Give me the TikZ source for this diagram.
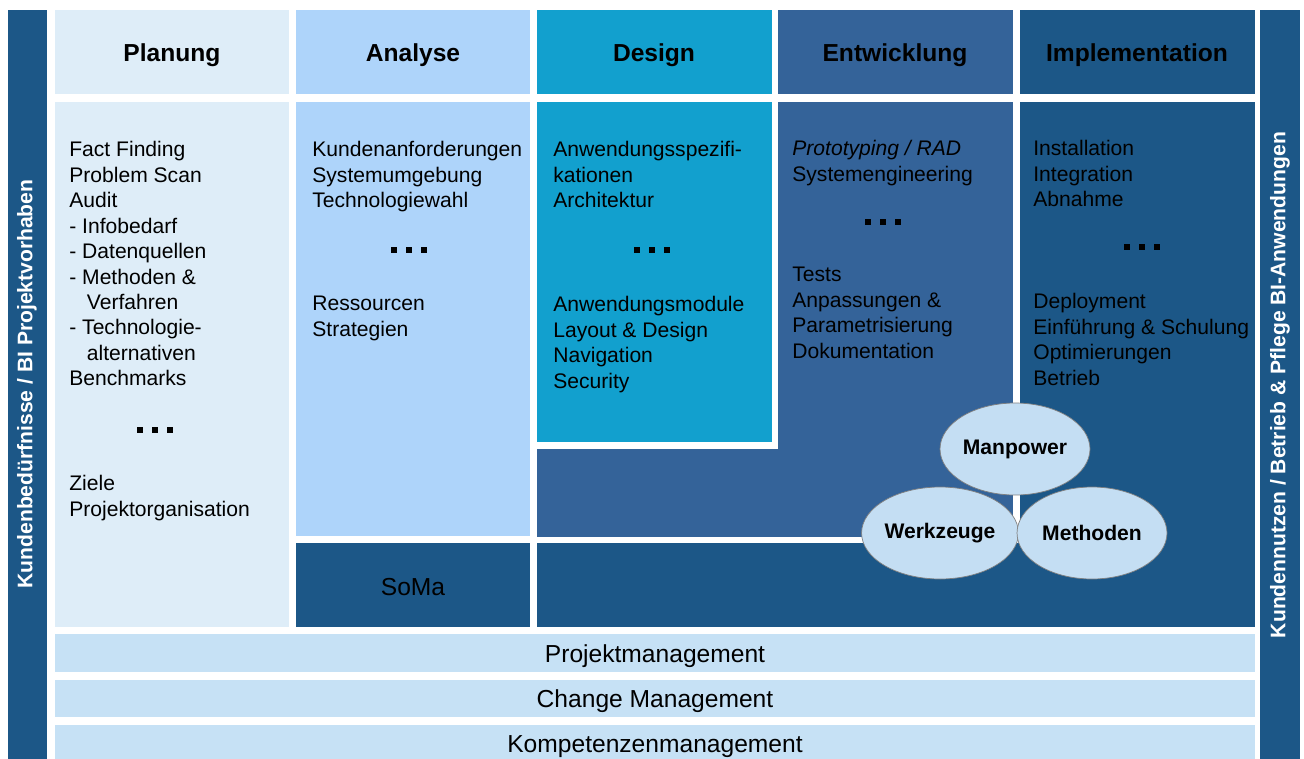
\documentclass[tikz,border=0pt]{standalone}
\usepackage{fontspec}
\setmainfont{Liberation Sans}
\usetikzlibrary{shapes.geometric}
\definecolor{dunkelblau}{HTML}{1C5787}
\definecolor{mittelblau}{HTML}{346399}
\definecolor{tuerkis}{HTML}{12A0CE}
\definecolor{hellblau}{HTML}{AED4FA}
\definecolor{blassblau}{HTML}{DEEDF8}
\definecolor{balkenblau}{HTML}{C6E1F5}
\definecolor{kreisblau}{HTML}{C4DEF3}
\begin{document}
\begin{tikzpicture}[x=0.02cm,y=-0.02cm,
  kopf/.style={font=\fontsize{14}{16}\selectfont\bfseries},
  liste/.style={anchor=north west,align=left,inner sep=0pt,font=\fontsize{12}{14.5}\selectfont},
  balken/.style={font=\fontsize{14}{16}\selectfont},
  seite/.style={rotate=90,text=white,font=\fontsize{12}{14}\selectfont\bfseries},
  kreis/.style={ellipse,draw=gray,fill=kreisblau,minimum width=3cm,minimum height=1.84cm,inner sep=0pt,font=\fontsize{12}{14}\selectfont\bfseries}]
\useasboundingbox (0,0) rectangle (1304,758);
\clip (0,0) rectangle (1304,758);
\fill[dunkelblau] (8,10) rectangle (47,770);
\fill[dunkelblau] (1260,10) rectangle (1300,770);
\fill[blassblau] (55,10) rectangle (289,94);
\fill[hellblau] (296,10) rectangle (530,94);
\fill[tuerkis] (537,10) rectangle (772,94);
\fill[mittelblau] (778,10) rectangle (1013,94);
\fill[dunkelblau] (1020,10) rectangle (1255,94);
\fill[blassblau] (55,102) rectangle (289,627);
\fill[hellblau] (296,102) rectangle (530,536);
\fill[dunkelblau] (296,543) rectangle (530,627);
\fill[tuerkis] (537,102) rectangle (772,442);
\fill[mittelblau] (778,102) rectangle (1013,537);
\fill[mittelblau] (537,449) rectangle (1013,537);
\fill[dunkelblau] (537,543) rectangle (1255,627);
\fill[dunkelblau] (1020,102) rectangle (1255,627);
\fill[balkenblau] (55,634) rectangle (1255,672);
\fill[balkenblau] (55,680) rectangle (1255,717);
\fill[balkenblau] (55,725) rectangle (1255,762);
\node[kopf] (planung) at (172,55) {Planung};
\node[kopf] (analyse) at (413,55) {Analyse};
\node[kopf] (design) at (654,55) {Design};
\node[kopf] (entwicklung) at (895,55) {Entwicklung};
\node[kopf] (implementation) at (1137,55) {Implementation};
\node[liste] (planA) at (69,141) {Fact Finding\\Problem Scan\\Audit\\- Infobedarf\\- Datenquellen\\- Methoden \&\\\hspace{10pt}Verfahren\\- Technologie-\\\hspace{10pt}alternativen\\Benchmarks};
\node[liste] (planB) at (69,475) {Ziele\\Projektorganisation};
\node[liste] (analyseA) at (312,141) {Kundenanforderungen\\Systemumgebung\\Technologiewahl};
\node[liste] (analyseB) at (312,296) {Ressourcen\\Strategien};
\node[liste] (designA) at (553,141) {Anwendungsspezifi-\\kationen\\Architektur};
\node[liste] (designB) at (553,296) {Anwendungsmodule\\Layout \& Design\\Navigation\\Security};
\node[liste] (entwA) at (792,140) {\textit{Prototyping / RAD}\\Systemengineering};
\node[liste] (entwB) at (792,267) {Tests\\Anpassungen \&\\Parametrisierung\\Dokumentation};
\node[liste] (implA) at (1033,140) {Installation\\Integration\\Abnahme};
\node[liste] (implB) at (1033,293) {Deployment\\Einführung \& Schulung\\Optimierungen\\Betrieb};
\foreach \px/\py in {155/430,409/250,652/250,883/222,1142/247}
  \foreach \d in {-15,0,15}
    \fill (\px+\d-3,\py-3) rectangle +(6,6);
\node[balken] (soma) at (413,587) {SoMa};
\node[balken] (projekt) at (655,656) {Projektmanagement};
\node[balken] (change) at (655,701) {Change Management};
\node[balken] (kompetenz) at (655,747) {Kompetenzenmanagement};
\node[seite] (beduerfnis) at (27,384) {Kundenbedürfnisse / BI Projektvorhaben};
\node[seite] (nutzen) at (1280,385) {Kundennutzen / Betrieb \& Pflege BI-Anwendungen};
\node[kreis] (werkzeuge) at (940,533) {Werkzeuge};
\node[kreis] (methoden) at (1092,533) {Methoden};
\node[kreis] (manpower) at (1015,449) {Manpower};
\end{tikzpicture}
\end{document}
